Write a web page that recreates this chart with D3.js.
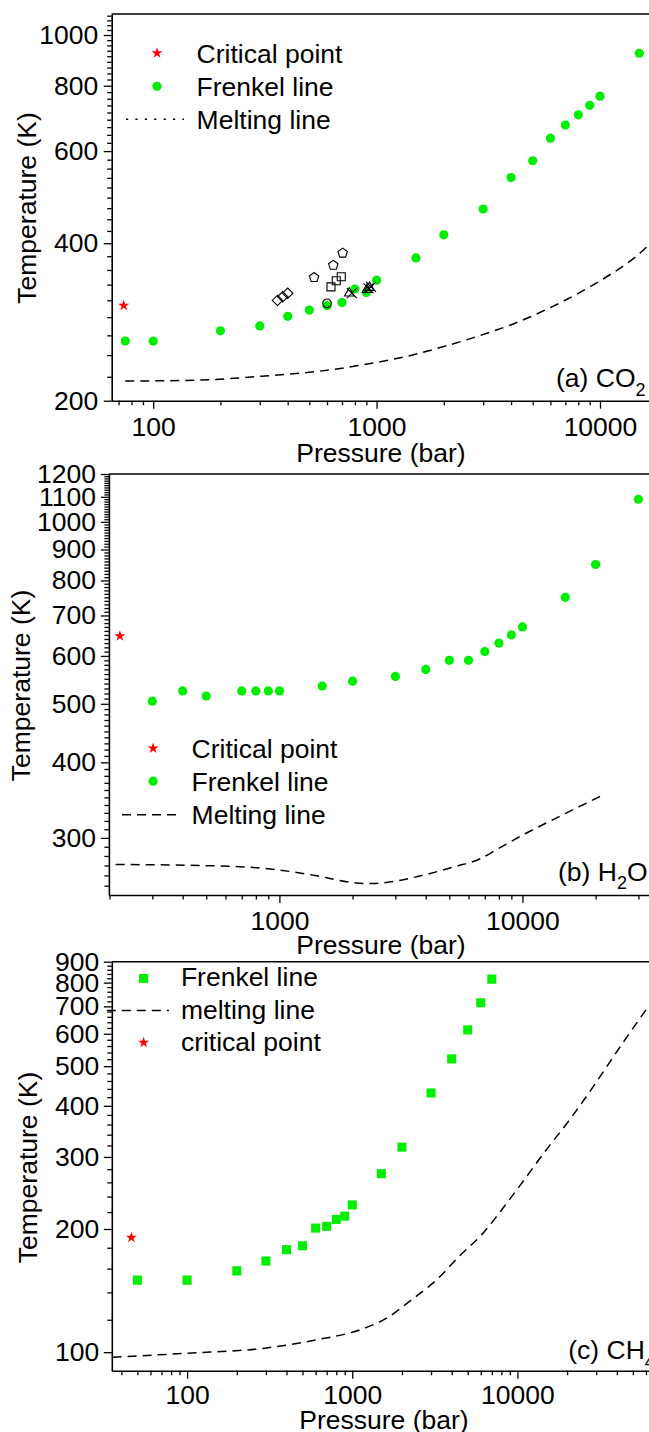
<!DOCTYPE html>
<html>
<head>
<meta charset="utf-8">
<script src="https://cdn.jsdelivr.net/npm/d3@7"></script>
<style>
  body { margin: 0; background: #fff; }
  svg { display: block; }
  text { font-family: "Liberation Sans", Arial, sans-serif; fill: #000; }
</style>
</head>
<body>
<svg id="fig" width="649" height="1432"></svg>
<script>
// ---------- (a) CO2 ----------
const co2Pressure = [75, 100, 200, 300, 400, 500, 600, 700, 800, 900, 1000, 1500, 2000, 3000, 4000, 5000, 6000, 7000, 8000, 9000, 10000, 15000];
const co2Frenkel  = [260, 260, 272, 278, 290, 298, 304, 308, 327, 322, 340, 375, 415, 465, 534, 575, 635, 673, 704, 734, 764, 923];
const co2MeltP = [75, 160, 316, 651, 951, 1451, 2115, 2954, 4164, 5772, 7995, 10720, 14340, 16900];
const co2MeltT = [218, 219, 223, 229.7, 235.8, 244.6, 255.6, 267.1, 281.2, 299, 320.8, 345.1, 375.9, 400];
const co2CritP = [73.8];
const co2CritT = [304.1];
// other reported crossover points
const co2DiamondP  = [360, 380, 400];
const co2DiamondT  = [311, 316, 321];
const co2PentagonP = [525, 640, 705];
const co2PentagonT = [344, 363, 383];
const co2SquareP   = [625, 660, 695];
const co2SquareT   = [330, 339, 345];
const co2CircleP   = [600];
const co2CircleT   = [307];
const co2TriangleP = [755, 905, 930];
const co2TriangleT = [321, 326, 329];
const co2CrossP    = [775, 920, 945];
const co2CrossT    = [321, 328, 330];

// ---------- (b) H2O ----------
const h2oPressure = [300, 400, 500, 700, 800, 900, 1000, 1500, 2000, 3000, 4000, 5000, 6000, 7000, 8000, 9000, 10000, 15000, 20000, 30000];
const h2oFrenkel  = [505, 525, 515, 525, 525, 525, 525, 535, 545, 555, 570, 590, 590, 610, 630, 650, 670, 750, 850, 1090];
const h2oMeltP = [212, 470, 870, 1400, 2000, 2400, 2830, 3870, 5300, 6700, 7840, 10300, 14100, 21700];
const h2oMeltT = [271, 270, 267, 260, 253, 252, 253.5, 260, 269, 277, 287, 305, 325, 354];
const h2oCritP = [220.6];
const h2oCritT = [647];

// ---------- (c) CH4 ----------
const ch4Pressure = [50, 100, 200, 300, 400, 500, 600, 700, 800, 900, 1000, 1500, 2000, 3000, 4000, 5000, 6000, 7000];
const ch4Frenkel  = [150, 150, 158, 167, 178, 182, 201, 203, 211, 215, 229, 273, 317, 430, 521, 613, 714, 816];
const ch4MeltP = [35.4, 99, 296, 638, 1113, 1615, 2288, 3243, 4486, 6209, 8204, 10840, 15030, 20790, 24470, 42200, 64400];
const ch4MeltT = [97.2, 99.4, 102.3, 107.6, 113.4, 121.1, 134.3, 150.3, 172.2, 195.6, 225.3, 261.7, 313, 370.7, 405.7, 560, 715];
const ch4CritP = [46];
const ch4CritT = [190.6];

// ---------- tick labels ----------
const xTicksA = [100, 1000, 10000];
const xTicksB = [1000, 10000];
const xTicksC = [100, 1000, 10000];
const yTicksA = [200, 400, 600, 800, 1000];
const yTicksB = [300, 400, 500, 600, 700, 800, 900, 1000, 1100, 1200];
const yTicksC = [100, 200, 300, 400, 500, 600, 700, 800, 900];

// ---------- legend texts ----------
const legendA = ["Critical point", "Frenkel line", "Melting line"];
const legendB = ["Critical point", "Frenkel line", "Melting line"];
const legendC = ["Frenkel line", "melting line", "critical point"];

const FONT = 26.5;
const GREEN = "#00ee00";
const RED = "#ff0000";

const svg = d3.select("#fig");
const defs = svg.append("defs");

const zip = (a, b) => a.map((v, i) => [v, b[i]]);

function logMinors(domain, majors) {
  const out = [];
  const lo = Math.floor(Math.log10(domain[0])), hi = Math.ceil(Math.log10(domain[1]));
  for (let e = lo; e <= hi; e++) {
    for (let k = 1; k <= 9; k++) {
      const v = k * Math.pow(10, e);
      if (v >= domain[0] && v <= domain[1] && !majors.includes(v)) out.push(v);
    }
  }
  return out;
}

function stepMinors(start, stop, step, majors) {
  const out = [];
  for (let i = 0; start + i * step <= stop + 1e-9; i++) {
    const v = start + i * step;
    if (!majors.some(m => Math.abs(m - v) < 1e-6)) out.push(v);
  }
  return out;
}

const starPath = d3.symbol().type(d3.symbolStar).size(38)();
const squarePath = d3.symbol().type(d3.symbolSquare).size(82)();

function pentagonPath(r) {
  const pts = d3.range(5).map(i => {
    const a = -Math.PI / 2 + i * 2 * Math.PI / 5;
    return [r * Math.cos(a), r * Math.sin(a)];
  });
  return "M" + pts.map(p => p.join(",")).join("L") + "Z";
}
function trianglePath(r) {
  const pts = d3.range(3).map(i => {
    const a = -Math.PI / 2 + i * 2 * Math.PI / 3;
    return [r * Math.cos(a), r * Math.sin(a)];
  });
  return "M" + pts.map(p => p.join(",")).join("L") + "Z";
}
const diamondPath = "M0,-5.2L5.2,0L0,5.2L-5.2,0Z";
const openSquarePath = "M-4,-4L4,-4L4,4L-4,4Z";
const crossPath = "M-5,-5L5,5M-5,5L5,-5";

function drawAxes(g, p, x, y) {
  const style = sel => {
    sel.attr("font-size", FONT).attr("font-family", "'Liberation Sans', Arial, sans-serif");
    sel.selectAll("line").attr("stroke-width", 1.3);
    sel.select(".domain").attr("stroke-width", 1.6);
  };
  // x minor
  g.append("g").attr("transform", `translate(0,${p.bottom})`)
    .call(d3.axisBottom(x).tickValues(logMinors(x.domain(), p.xTicks)).tickSize(4.5).tickSizeOuter(0).tickFormat(() => ""))
    .call(style).call(a => a.select(".domain").remove());
  // x major
  g.append("g").attr("transform", `translate(0,${p.bottom})`)
    .call(d3.axisBottom(x).tickValues(p.xTicks).tickSize(8).tickSizeOuter(0).tickPadding(p.xPad).tickFormat(d3.format("d")))
    .call(style);
  // y minor
  g.append("g").attr("transform", `translate(${p.left},0)`)
    .call(d3.axisLeft(y).tickValues(p.yMinor).tickSize(4.5).tickSizeOuter(0).tickFormat(() => ""))
    .call(style).call(a => a.select(".domain").remove());
  // y major
  g.append("g").attr("transform", `translate(${p.left},0)`)
    .call(d3.axisLeft(y).tickValues(p.yTicks).tickSize(8).tickSizeOuter(0).tickPadding(p.yPad).tickFormat(d3.format("d")))
    .call(style);
  // top frame line
  g.append("line").attr("x1", p.left).attr("x2", p.right).attr("y1", p.top).attr("y2", p.top)
    .attr("stroke", "#000").attr("stroke-width", 1.6);

  // axis titles
  g.append("text").attr("x", p.xTitle[0]).attr("y", p.xTitle[1]).attr("text-anchor", "middle")
    .attr("font-size", FONT).text("Pressure (bar)");
  g.append("text").attr("transform", `translate(${p.yTitle[0]},${p.yTitle[1]}) rotate(-90)`)
    .attr("text-anchor", "middle").attr("font-size", FONT).text("Temperature (K)");
}

function drawPanelLabel(g, pos, main, sub, tail) {
  const t = g.append("text").attr("x", pos[0]).attr("y", pos[1]).attr("font-size", FONT);
  t.append("tspan").text(main);
  t.append("tspan").attr("font-size", 18).attr("dy", 8.5).text(sub);
  if (tail) t.append("tspan").attr("dy", -8.5).text(tail);
}

function makePanel(p) {
  const x = d3.scaleLog().domain(p.xDomain).range([p.left, p.right]);
  const y = d3.scaleLog().domain(p.yDomain).range([p.bottom, p.top]);
  const g = svg.append("g");
  defs.append("clipPath").attr("id", "clip-" + p.id).append("rect")
    .attr("x", p.left).attr("y", p.top).attr("width", p.right - p.left).attr("height", p.bottom - p.top);
  drawAxes(g, p, x, y);
  const plot = g.append("g").attr("clip-path", `url(#clip-${p.id})`);
  return { x, y, g, plot };
}

const meltLine = (x, y) => d3.line().x(d => x(d[0])).y(d => y(d[1])).curve(d3.curveMonotoneX);

// ================= (a) CO2 =================
{
  const p = {
    id: "a", left: 111.7, right: 651, top: 14, bottom: 400.7,
    xDomain: [65.2, 16920], yDomain: [200, 1097],
    xTicks: xTicksA, yTicks: yTicksA,
    yMinor: stepMinors(200, 1097, 200 / 9, yTicksA),
    xPad: 8, yPad: 5.5,
    xTitle: [381, 462.3], yTitle: [36, 208]
  };
  const { x, y, g, plot } = makePanel(p);

  plot.append("path").datum(zip(co2MeltP, co2MeltT)).attr("d", meltLine(x, y))
    .attr("fill", "none").attr("stroke", "#000").attr("stroke-width", 1.5).attr("stroke-dasharray", "9,6");

  plot.selectAll("circle.fr").data(zip(co2Pressure, co2Frenkel)).join("circle")
    .attr("class", "fr").attr("cx", d => x(d[0])).attr("cy", d => y(d[1])).attr("r", 4.6).attr("fill", GREEN);

  const open = (P, T, path) => plot.append("g").selectAll("path").data(zip(P, T)).join("path")
    .attr("transform", d => `translate(${x(d[0])},${y(d[1])})`).attr("d", path)
    .attr("fill", "none").attr("stroke", "#000").attr("stroke-width", 1.1);
  open(co2DiamondP, co2DiamondT, diamondPath);
  open(co2PentagonP, co2PentagonT, pentagonPath(5));
  open(co2SquareP, co2SquareT, openSquarePath);
  open(co2CircleP, co2CircleT, "M4.3,0A4.3,4.3 0 1,1 -4.3,0A4.3,4.3 0 1,1 4.3,0Z");
  open(co2TriangleP, co2TriangleT, trianglePath(5.5));
  open(co2CrossP, co2CrossT, crossPath);

  plot.selectAll("path.cp").data(zip(co2CritP, co2CritT)).join("path").attr("class", "cp")
    .attr("transform", d => `translate(${x(d[0])},${y(d[1])})`).attr("d", starPath).attr("fill", RED);

  // legend
  const base = [62.5, 95.8, 129.3];
  g.append("path").attr("transform", `translate(157,${base[0] - 9.5})`).attr("d", starPath).attr("fill", RED);
  g.append("circle").attr("cx", 157).attr("cy", base[1] - 9.5).attr("r", 4.6).attr("fill", GREEN);
  g.append("line").attr("x1", 126).attr("x2", 184).attr("y1", base[2] - 10).attr("y2", base[2] - 10)
    .attr("stroke", "#000").attr("stroke-width", 1.6).attr("stroke-dasharray", "2.2,7.2");
  legendA.forEach((s, i) => g.append("text").attr("x", 196.6).attr("y", base[i]).attr("font-size", FONT).text(s));

  drawPanelLabel(g, [556, 387.3], "(a) CO", "2");
}

// ================= (b) H2O =================
{
  const p = {
    id: "b", left: 108.9, right: 651, top: 474, bottom: 895,
    xDomain: [198.8, 33800], yDomain: [241.3, 1200],
    xTicks: xTicksB, yTicks: yTicksB,
    yMinor: stepMinors(250, 1200, 10, yTicksB),
    xPad: 8, yPad: 5,
    xTitle: [381, 954], yTitle: [29.5, 685.5]
  };
  const { x, y, g, plot } = makePanel(p);

  plot.append("path").datum(zip(h2oMeltP, h2oMeltT)).attr("d", meltLine(x, y))
    .attr("fill", "none").attr("stroke", "#000").attr("stroke-width", 1.5).attr("stroke-dasharray", "9,6");

  plot.selectAll("circle.fr").data(zip(h2oPressure, h2oFrenkel)).join("circle")
    .attr("class", "fr").attr("cx", d => x(d[0])).attr("cy", d => y(d[1])).attr("r", 4.6).attr("fill", GREEN);

  plot.selectAll("path.cp").data(zip(h2oCritP, h2oCritT)).join("path").attr("class", "cp")
    .attr("transform", d => `translate(${x(d[0])},${y(d[1])})`).attr("d", starPath).attr("fill", RED);

  const base = [757.7, 790.7, 824.3];
  g.append("path").attr("transform", `translate(153.1,${base[0] - 9.5})`).attr("d", starPath).attr("fill", RED);
  g.append("circle").attr("cx", 153.1).attr("cy", base[1] - 9.5).attr("r", 4.6).attr("fill", GREEN);
  g.append("line").attr("x1", 122).attr("x2", 179).attr("y1", base[2] - 9.5).attr("y2", base[2] - 9.5)
    .attr("stroke", "#000").attr("stroke-width", 1.6).attr("stroke-dasharray", "9,6");
  legendB.forEach((s, i) => g.append("text").attr("x", 191.6).attr("y", base[i]).attr("font-size", FONT).text(s));

  drawPanelLabel(g, [558, 880.7], "(b) H", "2", "O");
}

// ================= (c) CH4 =================
{
  const p = {
    id: "c", left: 111.8, right: 651, top: 961.7, bottom: 1370.7,
    xDomain: [35.0, 64400], yDomain: [90.1, 900],
    xTicks: xTicksC, yTicks: yTicksC,
    yMinor: stepMinors(100, 900, 20, yTicksC),
    xPad: 6.5, yPad: 4.5,
    xTitle: [384, 1429], yTitle: [36.5, 1167.5]
  };
  const { x, y, g, plot } = makePanel(p);

  plot.append("path").datum(zip(ch4MeltP, ch4MeltT)).attr("d", meltLine(x, y))
    .attr("fill", "none").attr("stroke", "#000").attr("stroke-width", 1.5).attr("stroke-dasharray", "9,6");

  plot.selectAll("path.fr").data(zip(ch4Pressure, ch4Frenkel)).join("path").attr("class", "fr")
    .attr("transform", d => `translate(${x(d[0])},${y(d[1])})`).attr("d", squarePath).attr("fill", GREEN);

  plot.selectAll("path.cp").data(zip(ch4CritP, ch4CritT)).join("path").attr("class", "cp")
    .attr("transform", d => `translate(${x(d[0])},${y(d[1])})`).attr("d", starPath).attr("fill", RED);

  const base = [986, 1018.5, 1051];
  g.append("path").attr("transform", `translate(143.6,${base[0] - 7.5})`).attr("d", squarePath).attr("fill", GREEN);
  g.append("line").attr("x1", 106.8).attr("x2", 169).attr("y1", base[1] - 8).attr("y2", base[1] - 8)
    .attr("stroke", "#000").attr("stroke-width", 1.6).attr("stroke-dasharray", "9,6");
  g.append("path").attr("transform", `translate(143.6,${base[2] - 8.5})`).attr("d", starPath).attr("fill", RED);
  legendC.forEach((s, i) => g.append("text").attr("x", 180.9).attr("y", base[i]).attr("font-size", FONT).text(s));

  drawPanelLabel(g, [568.3, 1359.3], "(c) CH", "4");
}
</script>
</body>
</html>
